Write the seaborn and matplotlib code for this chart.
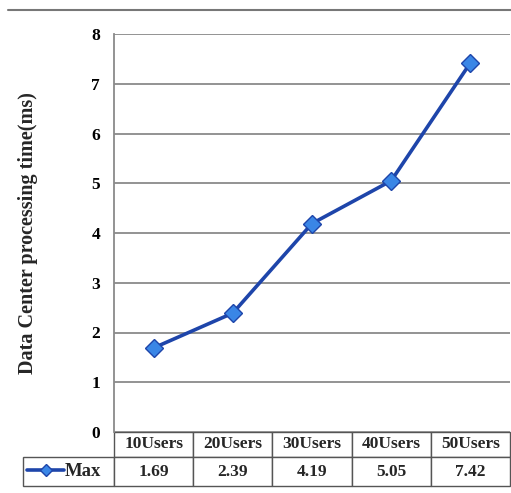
import matplotlib
matplotlib.use("Agg")
import matplotlib.pyplot as plt
from matplotlib.lines import Line2D
from matplotlib.table import Table
import pandas as pd
import seaborn as sns

categories = ["10Users", "20Users", "30Users", "40Users", "50Users"]
max_values = [1.69, 2.39, 4.19, 5.05, 7.42]
series_name = "Max"
y_ticks = [0, 1, 2, 3, 4, 5, 6, 7, 8]

LINE_COLOR = "#1e45aa"
MARKER_COLOR = "#3a86e6"
GRID_COLOR = "#8a8a8a"
FS = 12.5

sns.set_theme(style="white")
plt.rcParams["font.family"] = ["Liberation Serif", "DejaVu Serif"]
plt.rcParams["font.weight"] = "bold"

df = pd.DataFrame({"users": categories, "time": max_values})

fig = plt.figure(figsize=(5.11, 4.93), dpi=100)
ax = fig.add_axes([114 / 511, 61 / 493, 396 / 511, 398 / 493])

sns.lineplot(data=df, x="users", y="time", ax=ax, color=LINE_COLOR,
             linewidth=2.6, marker="D", markersize=9,
             markerfacecolor=MARKER_COLOR, markeredgecolor=LINE_COLOR,
             markeredgewidth=1.0, label=series_name, zorder=5)

ax.set_xlim(-0.5, len(categories) - 0.5)
ax.set_ylim(0, 8)
ax.set_yticks(y_ticks)
ax.set_yticklabels([str(t) for t in y_ticks], fontsize=FS, fontweight="bold")
ax.set_xticks([])
ax.set_xlabel("")
ax.set_ylabel("Data Center processing time(ms)", fontsize=14.5,
              fontweight="bold", labelpad=38)
ax.tick_params(axis="y", length=0, pad=10, colors="black")
ax.yaxis.grid(True, color=GRID_COLOR, linewidth=1.3)
for side in ["top", "right", "bottom"]:
    ax.spines[side].set_visible(False)
ax.spines["left"].set_color(GRID_COLOR)
ax.spines["left"].set_linewidth(1.3)

# data table under the plot
label_w = 91 / 396
col_w = 1 / len(categories)
head_h = 25 / 398
row_h = 29 / 398
tb = Table(ax, bbox=[0, -(head_h + row_h), 1, head_h + row_h])
for j, cat in enumerate(categories):
    c = tb.add_cell(0, j, width=col_w, height=head_h, text=cat, loc="center")
    c.get_text().set_fontweight("bold")
    c.get_text().set_fontsize(FS)
c = tb.add_cell(1, -1, width=label_w, height=row_h, text="", loc="center")
for j, v in enumerate(max_values):
    c = tb.add_cell(1, j, width=col_w, height=row_h, text=f"{v:.2f}", loc="center")
    c.get_text().set_fontweight("bold")
    c.get_text().set_fontsize(FS)
tb.auto_set_font_size(False)
for cell in tb.get_celld().values():
    cell.set_edgecolor("#555555")
    cell.set_linewidth(1.0)
ax.add_table(tb)

# legend key inside the "Max" cell
leg = ax.legend(loc="center left", bbox_to_anchor=(-label_w + 0.01, -head_h - row_h / 2),
                frameon=False, fontsize=13.5, handlelength=2.0, handletextpad=0.0,
                borderaxespad=0, borderpad=0)
for t in leg.get_texts():
    t.set_fontweight("bold")
for h in leg.legend_handles:
    h.set_markersize(6)

# thin rule at the top of the figure
fig.add_artist(Line2D([8 / 511, 1.0], [1 - 10 / 493, 1 - 10 / 493],
                      transform=fig.transFigure, color="#777777", linewidth=1.5))

fig.savefig("out.png", dpi=100, facecolor="white")
